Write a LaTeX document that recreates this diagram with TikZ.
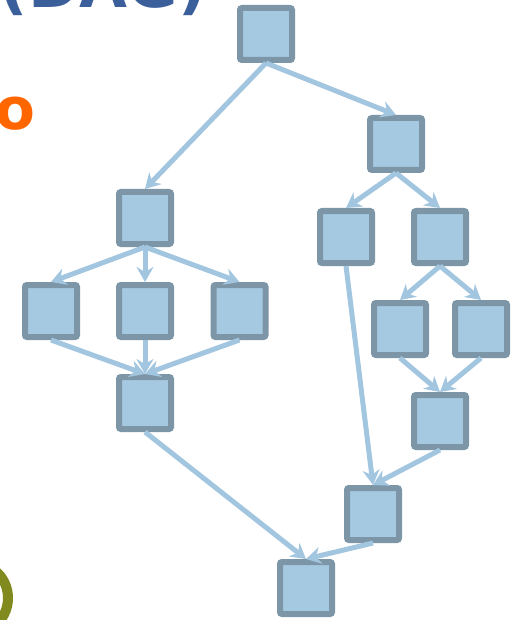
\documentclass[tikz,border=0pt]{standalone}
\usepackage{fontspec}
\setmainfont{DejaVu Sans}
\usetikzlibrary{arrows.meta}
\definecolor{boxfill}{HTML}{A6C9E2}
\definecolor{boxline}{HTML}{7C96A8}
\definecolor{edgeblue}{HTML}{A3C6E0}
\definecolor{titleblue}{HTML}{3B5F9A}
\definecolor{accentorange}{HTML}{FF6600}
\definecolor{accentolive}{HTML}{808A1F}
\tikzset{
  task/.style={draw=boxline, fill=boxfill, line width=6pt, rounded corners=2pt,
    minimum width=52pt, minimum height=52pt, inner sep=0pt, outer sep=3pt},
  dep/.style={draw=edgeblue, line width=5pt,
    -{Stealth[length=15pt,width=17pt,inset=5pt]}},
}
\begin{document}
\begin{tikzpicture}[x=1pt,y=-1pt]
\useasboundingbox (0,0) rectangle (514,620);

% partly visible heading and side texts
\node[anchor=base east, inner sep=0pt, text=titleblue, font=\bfseries\fontsize{62}{62}\selectfont] (title) at (207,8) {(DAG)};
\node[anchor=base west, inner sep=0pt, text=accentorange, font=\bfseries\fontsize{58}{58}\selectfont] (otext) at (-5,130) {o};
\draw[accentolive, line width=10pt] (-24,598) ellipse (32 and 34);

% tasks
\node[task] (a) at (266,34) {};
\node[task] (b) at (396,144) {};
\node[task] (c) at (145,218) {};
\node[task] (d) at (346,237) {};
\node[task] (e) at (440,237) {};
\node[task] (f) at (51,311) {};
\node[task] (g) at (145,311) {};
\node[task] (h) at (239.5,311) {};
\node[task] (i) at (400,329) {};
\node[task] (j) at (481,329) {};
\node[task] (k) at (145,403) {};
\node[task] (l) at (440,421) {};
\node[task] (m) at (373,514) {};
\node[task] (n) at (306,588) {};

% dependencies
\draw[dep] (a.south) -- (c.north);
\draw[dep] (a.south) -- (b.north);
\draw[dep] (b.south) -- (d.north);
\draw[dep] (b.south) -- (e.north);
\draw[dep] (c.south) -- (f.north);
\draw[dep] (c.south) -- (g.north);
\draw[dep] (c.south) -- (h.north);
\draw[dep] (e.south) -- (i.north);
\draw[dep] (e.south) -- (j.north);
\draw[dep] (f.south) -- (k.north);
\draw[dep] (g.south) -- (k.north);
\draw[dep] (h.south) -- (k.north);
\draw[dep] (i.south) -- (l.north);
\draw[dep] (j.south) -- (l.north);
\draw[dep] (d.south) -- (m.north);
\draw[dep] (l.south) -- (m.north);
\draw[dep] (k.south) -- (n.north);
\draw[dep] (m.south) -- (n.north);
\end{tikzpicture}
\end{document}
